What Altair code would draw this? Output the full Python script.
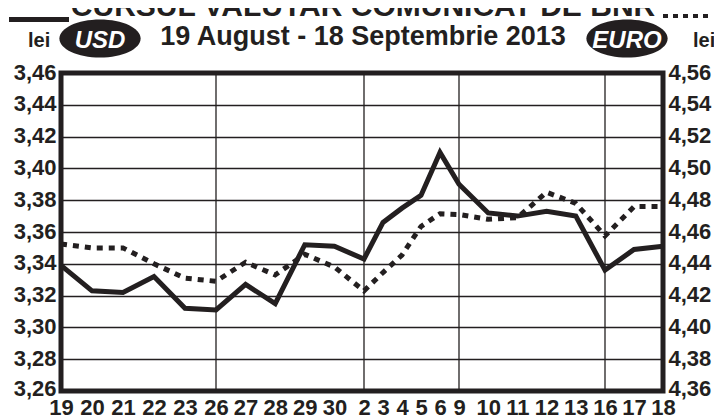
import altair as alt
import pandas as pd

# ---- data ----
days = ["19", "20", "21", "22", "23", "26", "27", "28", "29", "30",
        "2", "3", "4", "5", "6", "9", "10", "11", "12", "13", "16", "17", "18"]
usd = [3.3390, 3.3230, 3.3220, 3.3320, 3.3120, 3.3110, 3.3270, 3.3150, 3.3520, 3.3510,
       3.3430, 3.3660, 3.3750, 3.3830, 3.4100, 3.3900, 3.3720, 3.3700, 3.3730, 3.3700,
       3.3360, 3.3490, 3.3510]
eur = [4.4525, 4.4500, 4.4500, 4.4400, 4.4310, 4.4290, 4.4410, 4.4330, 4.4460, 4.4380,
       4.4230, 4.4345, 4.4455, 4.4635, 4.4715, 4.4710, 4.4680, 4.4690, 4.4850, 4.4780,
       4.4575, 4.4760, 4.4760]
usd_ticks = [3.26, 3.28, 3.30, 3.32, 3.34, 3.36, 3.38, 3.40, 3.42, 3.44, 3.46]
eur_ticks = [4.36, 4.38, 4.40, 4.42, 4.44, 4.46, 4.48, 4.50, 4.52, 4.54, 4.56]
week_starts = ["26", "2", "9", "16"]

title_text = "CURSUL VALUTAR COMUNICAT DE BNR"
subtitle_text = "19 August - 18 Septembrie 2013"

INK = "#231f20"
FONT = "Liberation Sans, Arial, sans-serif"
NARROW = "Liberation Sans Narrow, Arial Narrow, Liberation Sans, Arial, sans-serif"

idx = list(range(len(days)))
df = pd.DataFrame({"i": idx, "day": days, "usd": usd, "eur": eur})
week_idx = [days.index(d) for d in week_starts]
grid_df = pd.DataFrame({"i": week_idx})

# piecewise x scale: the labels are packed unevenly in the original
x_domain = [0] + week_idx + [len(days) - 1]
x_range = [0, 155, 303, 398, 544, 602]
xscale = alt.Scale(domain=x_domain, range=x_range)

label_arr = "[" + ",".join("'%s'" % d for d in days) + "]"


def xaxis():
    return alt.Axis(values=idx, labelExpr=label_arr + "[datum.value]", title=None,
                    grid=False, ticks=False, domain=False, labelPadding=6,
                    labelFontSize=22, labelFont=FONT, labelFontWeight="bold",
                    labelColor=INK, labelFlush=False, labelOverlap=False,
                    labelBaseline="top")


fmt = "replace(format(datum.value, '.2f'), '.', ',')"


def yaxis(orient, ticks, grid):
    return alt.Axis(orient=orient, values=ticks, labelExpr=fmt, title=None,
                    grid=grid, gridColor=INK, gridWidth=1.3, gridOpacity=1,
                    ticks=False, domain=False, labelPadding=5, labelFlush=False,
                    labelFontSize=22, labelFont=FONT, labelFontWeight="bold",
                    labelColor=INK,
                    labelOffset={"condition": {"test": "datum.value < %s" % (ticks[0] + 0.005),
                                               "value": -3}, "value": -1})


vgrid = alt.Chart(grid_df).mark_rule(color=INK, strokeWidth=1.3).encode(
    x=alt.X("i:Q", scale=xscale, axis=xaxis())
)

usd_line = alt.Chart(df).mark_line(color=INK, strokeWidth=5, strokeJoin="miter",
                                   strokeCap="butt").encode(
    x=alt.X("i:Q", scale=xscale, axis=xaxis()),
    y=alt.Y("usd:Q", scale=alt.Scale(domain=[usd_ticks[0], usd_ticks[-1]], nice=False, zero=False),
            axis=yaxis("left", usd_ticks, True)),
)

eur_line = alt.Chart(df).mark_line(color=INK, strokeWidth=5, strokeDash=[6, 6],
                                   strokeCap="butt").encode(
    x=alt.X("i:Q", scale=xscale, axis=xaxis()),
    y=alt.Y("eur:Q", scale=alt.Scale(domain=[eur_ticks[0], eur_ticks[-1]], nice=False, zero=False),
            axis=yaxis("right", eur_ticks, False)),
)

one = alt.Data(values=[{"k": 0}])


def txt(text, x, y, size, align="center", color=INK, italic=False, font=FONT):
    return alt.Chart(one).mark_text(
        text=text, align=align, baseline="alphabetic", fontSize=size,
        fontWeight="bold", fontStyle="italic" if italic else "normal",
        font=font, color=color
    ).encode(x=alt.value(x), y=alt.value(y))


ellipse = "M -1 0 A 1 0.47 0 1 1 1 0 A 1 0.47 0 1 1 -1 0 Z"


def oval(x, y):
    return alt.Chart(one).mark_point(shape=ellipse, size=6600, filled=True,
                                     color=INK, opacity=1, strokeWidth=0).encode(
        x=alt.value(x), y=alt.value(y))


legend_solid = alt.Chart(one).mark_rule(color=INK, strokeWidth=5).encode(
    x=alt.value(-52), x2=alt.value(8), y=alt.value(-53.5))
legend_dot = alt.Chart(one).mark_rule(color=INK, strokeWidth=4, strokeDash=[5, 5]).encode(
    x=alt.value(602), x2=alt.value(650), y=alt.value(-57))

header = [
    txt(title_text, 302, -57, 30),
    txt(subtitle_text, 302, -28, 27),
    txt("lei", -33, -26, 20, align="left"),
    txt("lei", 632, -26, 20, align="left"),
    oval(39, -34.5),
    oval(566, -34.5),
    txt("USD", 39, -25, 24, color="white", italic=True, font=NARROW),
    txt("EURO", 566, -25, 24, color="white", italic=True, font=NARROW),
    legend_solid,
    legend_dot,
]

chart = alt.layer(vgrid, usd_line, eur_line, *header).resolve_scale(
    y="independent"
).properties(
    width=602, height=318,
    autosize=alt.AutoSizeParams(type="none"),
    padding={"left": 53, "top": 65, "right": 51, "bottom": 29},
    background="white",
).configure_view(stroke=INK, strokeWidth=5)

chart.save("out.html", embed_options={"renderer": "svg", "actions": False})
